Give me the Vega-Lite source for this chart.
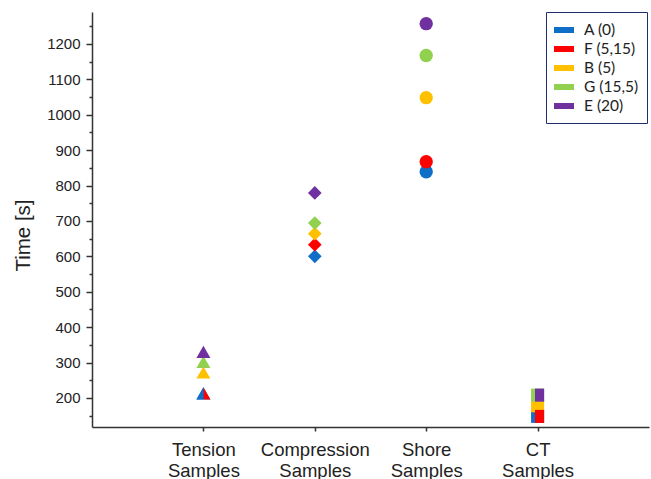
{
  "$schema": "https://vega.github.io/schema/vega-lite/v6.json",
  "width": 557,
  "height": 415,
  "autosize": {"type": "none"},
  "padding": {"left": 92, "top": 12, "right": 2, "bottom": 52},
  "background": "white",
  "config": {
    "view": {"stroke": null},
    "font": "Arial, 'Liberation Sans', sans-serif",
    "axis": {
      "domainColor": "#333333",
      "domainWidth": 1.5,
      "tickColor": "#333333",
      "tickWidth": 1.5,
      "labelColor": "#222222",
      "titleColor": "#222222",
      "labelFont": "Arial, 'Liberation Sans', sans-serif",
      "titleFont": "Arial, 'Liberation Sans', sans-serif",
      "grid": false
    }
  },
  "data": {
    "values": [
      {"sample": "Tension Samples", "series": "A (0)", "time": 213},
      {"sample": "Tension Samples", "series": "F (5,15)", "time": 213},
      {"sample": "Tension Samples", "series": "B (5)", "time": 272},
      {"sample": "Tension Samples", "series": "G (15,5)", "time": 302},
      {"sample": "Tension Samples", "series": "E (20)", "time": 330},
      {"sample": "Compression Samples", "series": "A (0)", "time": 600},
      {"sample": "Compression Samples", "series": "F (5,15)", "time": 633},
      {"sample": "Compression Samples", "series": "B (5)", "time": 664},
      {"sample": "Compression Samples", "series": "G (15,5)", "time": 694},
      {"sample": "Compression Samples", "series": "E (20)", "time": 779},
      {"sample": "Shore Samples", "series": "A (0)", "time": 839},
      {"sample": "Shore Samples", "series": "F (5,15)", "time": 867},
      {"sample": "Shore Samples", "series": "B (5)", "time": 1048},
      {"sample": "Shore Samples", "series": "G (15,5)", "time": 1167},
      {"sample": "Shore Samples", "series": "E (20)", "time": 1257},
      {"sample": "CT Samples", "series": "A (0)", "time": 148},
      {"sample": "CT Samples", "series": "F (5,15)", "time": 148},
      {"sample": "CT Samples", "series": "B (5)", "time": 178},
      {"sample": "CT Samples", "series": "G (15,5)", "time": 208},
      {"sample": "CT Samples", "series": "E (20)", "time": 208}
    ]
  },
  "layer": [
    {
      "transform": [
        {"filter": "!((datum.sample == 'Tension Samples' && datum.series == 'F (5,15)') || (datum.sample == 'CT Samples' && (datum.series == 'F (5,15)' || datum.series == 'E (20)')))"}
      ],
      "mark": {"type": "point", "filled": true, "opacity": 1, "strokeWidth": 0},
      "encoding": {
        "x": {
          "field": "sample",
          "type": "nominal",
          "sort": null,
          "scale": {"type": "point", "padding": 1, "domain": ["Tension Samples", "Compression Samples", "Shore Samples", "CT Samples"]},
          "axis": {
            "title": null,
            "labelAngle": 0,
            "labelExpr": "split(datum.label, ' ')",
            "labelFontSize": 18.5,
            "labelLineHeight": 21,
            "labelPadding": 9,
            "tickSize": 4
          }
        },
        "y": {
          "field": "time",
          "type": "quantitative",
          "scale": {"domain": [118, 1290], "nice": false, "zero": false},
          "axis": {
            "title": "Time [s]",
            "format": "d",
            "values": [200, 300, 400, 500, 600, 700, 800, 900, 1000, 1100, 1200],
            "tickSize": 6,
            "labelFontSize": 15,
            "labelPadding": 6,
            "titleFontSize": 20.5,
            "titleFontWeight": "normal",
            "titleX": -63,
            "titleY": 223,
            "titleBaseline": "alphabetic",
            "titleAlign": "center",
            "titleAngle": -90
          }
        },
        "color": {
          "field": "series",
          "type": "nominal",
          "scale": {
            "domain": ["A (0)", "F (5,15)", "B (5)", "G (15,5)", "E (20)"],
            "range": ["#0f6fc6", "#ff0000", "#ffc000", "#92d050", "#7030a0"]
          },
          "legend": {
            "title": null,
            "orient": "none",
            "legendX": 454,
            "legendY": 0,
            "strokeColor": "#1f2f6e",
            "fillColor": "white",
            "padding": 8,
            "rowPadding": 0,
            "symbolType": "M-1,-0.3H1V0.3H-1Z",
            "symbolSize": 400,
            "symbolStrokeWidth": 0,
            "symbolOpacity": 1,
            "labelFont": "Lato",
            "labelFontSize": 15.5,
            "labelColor": "#222222",
            "labelOffset": 10
          }
        },
        "shape": {
          "field": "sample",
          "type": "nominal",
          "scale": {"domain": ["Tension Samples", "Compression Samples", "Shore Samples", "CT Samples"], "range": ["triangle-up", "diamond", "circle", "square"]},
          "legend": null
        },
        "size": {
          "field": "sample",
          "type": "nominal",
          "scale": {"domain": ["Tension Samples", "Compression Samples", "Shore Samples", "CT Samples"], "range": [196, 170, 150, 110]},
          "legend": null
        }
      }
    },
    {
      "transform": [
        {"filter": "datum.sample == 'Tension Samples' && datum.series == 'F (5,15)'"}
      ],
      "mark": {"type": "point", "filled": true, "opacity": 1, "strokeWidth": 0, "shape": "M0,-0.866L1,0.866L0,0.866Z"},
      "encoding": {
        "x": {"field": "sample", "type": "nominal", "sort": null},
        "y": {"field": "time", "type": "quantitative", "axis": null},
        "color": {"field": "series", "type": "nominal"},
        "size": {"field": "sample", "type": "nominal", "legend": null}
      }
    },
    {
      "transform": [
        {"filter": "datum.sample == 'Tension Samples' && datum.series == 'A (0)'"}
      ],
      "mark": {"type": "point", "filled": true, "opacity": 1, "strokeWidth": 0, "shape": "M0,-0.866L-1,0.866L0,0.866Z"},
      "encoding": {
        "x": {"field": "sample", "type": "nominal", "sort": null},
        "y": {"field": "time", "type": "quantitative", "axis": null},
        "color": {"field": "series", "type": "nominal"},
        "size": {"field": "sample", "type": "nominal", "legend": null}
      }
    },
    {
      "transform": [
        {"filter": "datum.sample == 'CT Samples' && (datum.series == 'F (5,15)' || datum.series == 'E (20)')"}
      ],
      "mark": {"type": "point", "filled": true, "opacity": 1, "strokeWidth": 0, "shape": "M-0.4,-1H1V1H-0.4Z"},
      "encoding": {
        "x": {"field": "sample", "type": "nominal", "sort": null},
        "y": {"field": "time", "type": "quantitative", "axis": null},
        "color": {"field": "series", "type": "nominal"},
        "size": {"field": "sample", "type": "nominal", "legend": null}
      }
    },
    {
      "mark": {"type": "point", "opacity": 0},
      "encoding": {
        "x": {"field": "sample", "type": "nominal", "sort": null},
        "y": {
          "field": "time",
          "type": "quantitative",
          "axis": {
            "orient": "left",
            "title": null,
            "labels": false,
            "domain": false,
            "tickSize": 3,
            "values": [150, 250, 350, 450, 550, 650, 750, 850, 950, 1050, 1150, 1250]
          }
        }
      }
    }
  ],
  "resolve": {"axis": {"y": "independent"}}
}
